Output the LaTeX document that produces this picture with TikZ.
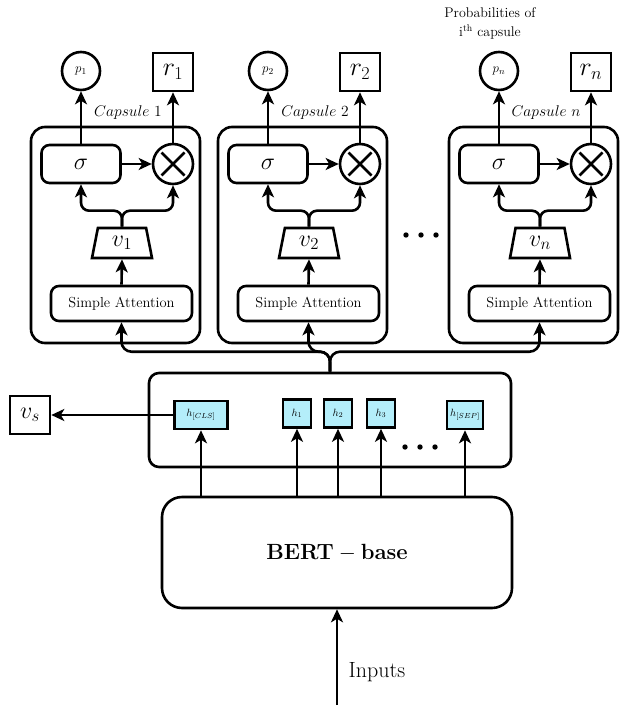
\RequirePackage{fix-cm}
\documentclass[tikz,border=0pt]{standalone}
\usetikzlibrary{arrows.meta,shapes.geometric}
\definecolor{hcyan}{RGB}{180,238,250}
\tikzset{
  lw/.style={line width=2.6pt},
  arr/.style={lw,-{Stealth[length=13pt,width=12pt,inset=3.5pt]}},
  capbox/.style={draw,lw,rounded corners=14pt,minimum width=169pt,minimum height=216pt,inner sep=0pt},
  sigbox/.style={draw,lw,rounded corners=8pt,minimum width=79pt,minimum height=38pt,inner sep=0pt,font=\fontsize{24}{28}\selectfont},
  sabox/.style={draw,lw,rounded corners=8pt,minimum width=141pt,minimum height=35pt,inner sep=0pt,font=\fontsize{14.5}{17}\selectfont},
  otnode/.style={draw,lw,circle,minimum size=40pt,inner sep=0pt},
  pnode/.style={draw,lw,circle,minimum size=38pt,inner sep=0pt,font=\fontsize{13}{15}\selectfont},
  rnode/.style={draw,lw,minimum width=40pt,minimum height=38pt,inner sep=0pt,font=\fontsize{26}{30}\selectfont},
  vnode/.style={draw,lw,trapezium,trapezium angle=80,trapezium stretches=true,minimum width=60pt,minimum height=30pt,inner sep=0pt,font=\fontsize{24}{28}\selectfont},
  caplabel/.style={font=\fontsize{15.5}{18}\selectfont,inner sep=0pt},
  hbox/.style={draw,lw,fill=hcyan,minimum height=28pt,inner sep=0pt,font=\fontsize{10.5}{12}\selectfont},
  plain14/.style={font=\fontsize{14}{17}\selectfont,inner sep=0pt},
}
\begin{document}
\begin{tikzpicture}[x=1pt,y=-1pt]
\useasboundingbox (0,0) rectangle (619,709);

% capsules
\foreach \L/\i in {31/1,218/2,449/n}{
  \node[capbox] (cap\i) at (\L+84.5,235) {};
  \node[sigbox] (sig\i) at (\L+50,164) {$\sigma$};
  \node[otnode] (ot\i) at (\L+142,164) {};
  \draw[lw] (ot\i.center) ++(-11.5,-11.5) -- ++(23,23);
  \draw[lw] (ot\i.center) ++(-11.5,11.5) -- ++(23,-23);
  \node[pnode] (p\i) at (\L+50,71) {$p_{\i}$};
  \node[rnode] (r\i) at (\L+142,72) {$r_{\i}$};
  \node[vnode] (v\i) at (\L+91,243) {$v_{\i}$};
  \node[sabox] (sa\i) at (\L+90.5,303.5) {Simple Attention};
  \node[caplabel] (cl\i) at (\L+97,113) {$Capsule\ \i$};
  \draw[arr] (sig\i.north) -- (p\i.south);
  \draw[arr] (ot\i.north) -- (r\i.south);
  \draw[arr] (sig\i.east) -- (ot\i.west);
  \draw[arr] (sa\i.north) -- (v\i.south);
  \draw[arr,rounded corners=8pt] (v\i.north) -- ++(0,-16) -| (sig\i.south);
  \draw[arr,rounded corners=8pt] (v\i.north) -- ++(0,-16) -| (ot\i.south);
}

% dots between capsules
\foreach \x in {406,421,436} \fill (\x,235) circle (2.7pt);

% top-right caption
\node[plain14] (prob1) at (490,13) {Probabilities of};
\node[plain14] (prob2) at (490,32) {i\textsuperscript{th} capsule};

% middle box
\node[draw,lw,rounded corners=10pt,minimum width=362pt,minimum height=94pt,inner sep=0pt] (mid) at (330,420) {};
\node[hbox,minimum width=53pt] (hcls) at (201,415) {$h_{[CLS]}$};
\node[hbox,minimum width=28pt] (h1) at (297,413.5) {$h_1$};
\node[hbox,minimum width=28pt] (h2) at (338,413.5) {$h_2$};
\node[hbox,minimum width=28pt] (h3) at (381,413.5) {$h_3$};
\node[hbox,minimum width=36pt] (hsep) at (465,415) {$h_{[SEP]}$};
\foreach \x in {405,420,435} \fill (\x,447) circle (2.7pt);

% bus to capsules
\draw[arr,rounded corners=10pt] (mid.north) -- ++(0,-20) -| (sa1.south);
\draw[arr,rounded corners=10pt] (mid.north) -- ++(0,-20) -| (sa2.south);
\draw[arr,rounded corners=10pt] (mid.north) -- ++(0,-20) -| (san.south);

% v_s
\node[draw,lw,minimum width=40pt,minimum height=38pt,inner sep=0pt,font=\fontsize{24}{28}\selectfont] (vs) at (30,415) {$v_s$};
\draw[arr] (hcls.west) -- (vs.east);

% BERT
\node[draw,lw,rounded corners=20pt,minimum width=350pt,minimum height=111pt,inner sep=0pt,font=\fontsize{22}{26}\selectfont] (bert) at (337,552.5) {$\mathbf{BERT-base}$};
\foreach \h in {hcls,h1,h2,h3,hsep}
  \draw[arr] (\h.south |- bert.north) -- (\h.south);

% inputs
\coordinate (inp) at (337,705);
\draw[arr] (inp) -- (bert.south);
\node[font=\fontsize{22}{26}\selectfont,inner sep=0pt] (inlabel) at (377,672) {Inputs};
\end{tikzpicture}
\end{document}
